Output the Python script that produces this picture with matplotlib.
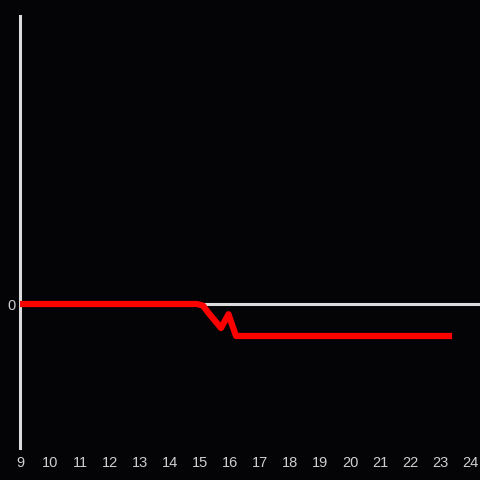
import matplotlib.pyplot as plt

# hours and value of the red series
horas = [9, 10, 11, 12, 13, 14, 14.9, 15.1, 15.3, 15.7, 15.95, 16.2, 17, 18, 19, 20, 21, 22, 23, 23.3]
valores = [0, 0, 0, 0, 0, 0, 0, -0.05, -0.3, -0.75, -0.32, -1.0, -1.0, -1.0, -1.0, -1.0, -1.0, -1.0, -1.0, -1.0]
ticks_x = list(range(9, 25))

fondo = "#040306"
gris = "#dcdcdc"

plt.rcParams['font.family'] = ['Liberation Sans', 'DejaVu Sans']

fig = plt.figure(figsize=(4.8, 4.8), dpi=100, facecolor=fondo)
ax = fig.add_axes([20 / 480, 32 / 480, 460 / 480, 432 / 480])
ax.set_facecolor(fondo)

ax.set_xlim(9, 9 + 460 / 30)
ax.set_ylim(-4.5, 9)

ax.axhline(0, color=gris, lw=2.2, zorder=1)
ax.plot(horas, valores, color="#ff0000", lw=4.5, solid_joinstyle="round", zorder=3)

for s in ["top", "right", "bottom"]:
    ax.spines[s].set_visible(False)
ax.spines["left"].set_color(gris)
ax.spines["left"].set_linewidth(2.2)

ax.set_xticks(ticks_x)
ax.set_yticks([0])
ax.tick_params(axis="both", length=0, colors="#cfcfcf", labelsize=10.5)
ax.tick_params(axis="x", pad=6)
ax.tick_params(axis="y", pad=3)

fig.savefig("out.png", dpi=100, facecolor=fondo)
